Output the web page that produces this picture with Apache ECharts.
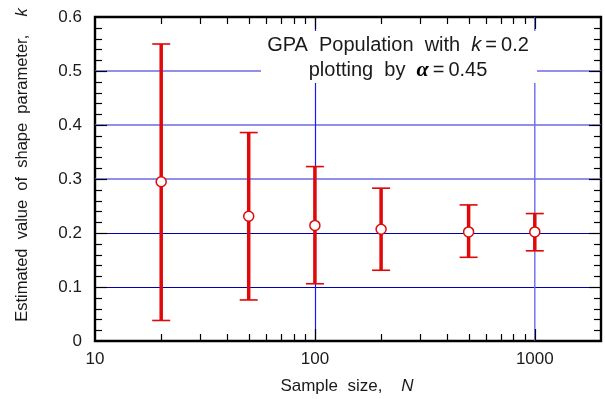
<!DOCTYPE html>
<html>
<head>
<meta charset="utf-8">
<script src="https://cdn.jsdelivr.net/npm/echarts@6/dist/echarts.min.js"></script>
<style>
  html, body { margin: 0; padding: 0; background: #fff; }
  #chart { width: 605px; height: 399px; }
</style>
</head>
<body>
<div id="chart"></div>
<script>
// Estimated GPA shape parameter k versus sample size N (mean and spread)
const sampleSizes = [20, 50, 100, 200, 500, 1000];
const meanK  = [0.295, 0.231, 0.214, 0.207, 0.202, 0.202];
const lowerK = [0.038, 0.076, 0.106, 0.131, 0.155, 0.167];
const upperK = [0.550, 0.386, 0.323, 0.283, 0.252, 0.236];

// Axis labels and tick positions
const xTickLabels = ['10', '100', '1000'];
const yTickLabels = ['0', '0.1', '0.2', '0.3', '0.4', '0.5', '0.6'];
const xMajorTicks = [100, 1000];
const xMinorTicks = [20, 30, 40, 50, 60, 70, 80, 90, 200, 300, 400, 500, 600, 700, 800, 900];
const yMajorTicks = [0.1, 0.2, 0.3, 0.4, 0.5];
const yMinorTicks = [0.02, 0.04, 0.06, 0.08, 0.12, 0.14, 0.16, 0.18, 0.22, 0.24, 0.26, 0.28,
                     0.32, 0.34, 0.36, 0.38, 0.42, 0.44, 0.46, 0.48, 0.52, 0.54, 0.56, 0.58];
const hGridValues = [0.1, 0.2, 0.3, 0.4, 0.5];
const vGridValues = [100, 1000];

const X_MIN = 10, X_MAX = 2000, Y_MIN = 0, Y_MAX = 0.6;
const FONT = '"Liberation Sans", Arial, sans-serif';
const RED = '#e00808';
const INK = '#1a1a1a';

// snap a 1px stroke onto the pixel grid
const crisp = v => Math.round(v) + 0.5;

const chart = echarts.init(document.getElementById('chart'), null, { renderer: 'canvas' });

// Error-bar rows: [N, low, high, mean]
const barRows = sampleSizes.map((n, i) => [n, lowerK[i], upperK[i], meanK[i]]);

// Tick rows: [x, y, side, isMajor]  side: 0 bottom, 1 top, 2 left, 3 right
const tickRows = [];
xMajorTicks.forEach(v => { tickRows.push([v, Y_MIN, 0, 1]); tickRows.push([v, Y_MAX, 1, 1]); });
xMinorTicks.forEach(v => { tickRows.push([v, Y_MIN, 0, 0]); tickRows.push([v, Y_MAX, 1, 0]); });
yMajorTicks.forEach(v => { tickRows.push([X_MIN, v, 2, 1]); tickRows.push([X_MAX, v, 3, 1]); });
yMinorTicks.forEach(v => { tickRows.push([X_MIN, v, 2, 0]); tickRows.push([X_MAX, v, 3, 0]); });

// Grid rows: [x, y, orientation]  0 horizontal, 1 vertical
const gridRows = [];
hGridValues.forEach(v => gridRows.push([X_MIN, v, 0]));
vGridValues.forEach(v => gridRows.push([v, Y_MIN, 1]));

const option = {
  animation: false,
  backgroundColor: '#fff',
  grid: {
    left: 95, right: 4, top: 17, bottom: 58,
    show: true, borderColor: '#000', borderWidth: 2.4, backgroundColor: 'transparent'
  },
  xAxis: {
    type: 'log', logBase: 10, min: X_MIN, max: X_MAX,
    axisLine: { show: false }, axisTick: { show: false }, splitLine: { show: false },
    axisLabel: {
      fontSize: 17, fontFamily: FONT, color: INK, margin: 10,
      showMaxLabel: false,
      formatter: v => {
        const s = String(Math.round(v));
        return xTickLabels.includes(s) ? s : '';
      }
    }
  },
  yAxis: {
    type: 'value', min: Y_MIN, max: Y_MAX, interval: 0.1,
    axisLine: { show: false }, axisTick: { show: false }, splitLine: { show: false },
    axisLabel: {
      fontSize: 17, fontFamily: FONT, color: INK, margin: 13,
      formatter: v => yTickLabels[Math.round(v * 10)]
    }
  },
  series: [
    {
      // blue reference lines
      type: 'custom', z: 1, clip: false, silent: true,
      data: gridRows,
      renderItem: (params, api) => {
        const orient = api.value(2);
        if (orient === 0) {
          const y = api.value(1);
          const a = api.coord([X_MIN, y]);
          const b = api.coord([X_MAX, y]);
          const light = y > 0.25;
          const yy = light ? a[1] : crisp(a[1]);
          return {
            type: 'line',
            shape: { x1: a[0], y1: yy, x2: b[0], y2: yy },
            style: { stroke: light ? '#6b6be4' : '#0000b0', lineWidth: light ? 1.6 : 1 }
          };
        }
        const x = api.value(0);
        const a = api.coord([x, Y_MIN]);
        const b = api.coord([x, Y_MAX]);
        const light = x > 500;
        const xx = light ? a[0] : crisp(a[0]);
        return {
          type: 'line',
          shape: { x1: xx, y1: a[1], x2: xx, y2: b[1] },
          style: { stroke: light ? '#6a6af0' : '#1a1aff', lineWidth: light ? 1.4 : 1.2 }
        };
      }
    },
    {
      // error bars with hollow mean markers
      type: 'custom', z: 5, clip: false,
      data: barRows,
      encode: { x: 0, y: [1, 2, 3] },
      renderItem: (params, api) => {
        const n = api.value(0);
        const lo = api.coord([n, api.value(1)]);
        const hi = api.coord([n, api.value(2)]);
        const mid = api.coord([n, api.value(3)]);
        const cap = 9;
        return {
          type: 'group',
          children: [
            { type: 'line', shape: { x1: lo[0], y1: lo[1], x2: hi[0], y2: hi[1] },
              style: { stroke: RED, lineWidth: 3.5 } },
            { type: 'line', shape: { x1: lo[0] - cap, y1: lo[1], x2: lo[0] + cap, y2: lo[1] },
              style: { stroke: RED, lineWidth: 1.6 } },
            { type: 'line', shape: { x1: hi[0] - cap, y1: hi[1], x2: hi[0] + cap, y2: hi[1] },
              style: { stroke: RED, lineWidth: 1.6 } },
            { type: 'circle', shape: { cx: mid[0], cy: mid[1], r: 5 },
              style: { fill: '#fff', stroke: RED, lineWidth: 1.5 } }
          ]
        };
      }
    },
    {
      // inward ticks on all four sides of the frame
      type: 'custom', z: 6, clip: false, silent: true,
      data: tickRows,
      renderItem: (params, api) => {
        const p = api.coord([api.value(0), api.value(1)]);
        const side = api.value(2);
        const len = api.value(3) ? 12 : 7;
        let x1 = p[0], y1 = p[1];
        if (side <= 1) x1 = crisp(x1); else y1 = crisp(y1);
        let x2 = x1, y2 = y1;
        if (side === 0) y2 -= len;
        else if (side === 1) y2 += len;
        else if (side === 2) x2 += len;
        else x2 -= len;
        return {
          type: 'line',
          shape: { x1: x1, y1: y1, x2: x2, y2: y2 },
          style: { stroke: '#000', lineWidth: 1.2 }
        };
      }
    }
  ],
  graphic: [
    {
      // white backing behind the annotation
      type: 'rect', z: 3, silent: true,
      shape: { x: 261, y: 31, width: 276, height: 52 },
      style: { fill: '#fff' }
    },
    {
      type: 'text', z: 4, x: 398, y: 45, silent: true,
      style: {
        text: '{n|GPA  Population  with  }{i|k}{n|\u2009=\u20090.2}',
        align: 'center', verticalAlign: 'middle',
        textAlign: 'center', textVerticalAlign: 'middle',
        rich: {
          n: { fontSize: 20, fontFamily: FONT, fill: INK, color: INK },
          i: { fontSize: 20, fontFamily: FONT, fontStyle: 'italic', fill: INK, color: INK }
        }
      }
    },
    {
      type: 'text', z: 4, x: 398, y: 70, silent: true,
      style: {
        text: '{n|plotting  by  }{a|\u03b1}{n|\u2009=\u20090.45}',
        align: 'center', verticalAlign: 'middle',
        textAlign: 'center', textVerticalAlign: 'middle',
        rich: {
          n: { fontSize: 20, fontFamily: FONT, fill: INK, color: INK },
          a: { fontSize: 22, fontFamily: '"Liberation Serif", serif', fontStyle: 'italic', fontWeight: 'bold', fill: '#000', color: '#000' }
        }
      }
    },
    {
      // x-axis title
      type: 'text', z: 4, x: 347, y: 386, silent: true,
      style: {
        text: '{n|Sample  size,    }{i|N}',
        align: 'center', verticalAlign: 'middle',
        textAlign: 'center', textVerticalAlign: 'middle',
        rich: {
          n: { fontSize: 17, fontFamily: FONT, fill: INK, color: INK },
          i: { fontSize: 17, fontFamily: FONT, fontStyle: 'italic', fill: INK, color: INK }
        }
      }
    },
    {
      // y-axis title, reading bottom to top
      type: 'text', z: 4, x: 22, y: 165, rotation: Math.PI / 2, silent: true,
      style: {
        text: '{n|Estimated  value  of  shape  parameter,    }{i|k}',
        align: 'center', verticalAlign: 'middle',
        textAlign: 'center', textVerticalAlign: 'middle',
        rich: {
          n: { fontSize: 16.5, fontFamily: FONT, fill: INK, color: INK },
          i: { fontSize: 16.5, fontFamily: FONT, fontStyle: 'italic', fill: INK, color: INK }
        }
      }
    }
  ]
};

chart.setOption(option);
</script>
</body>
</html>
